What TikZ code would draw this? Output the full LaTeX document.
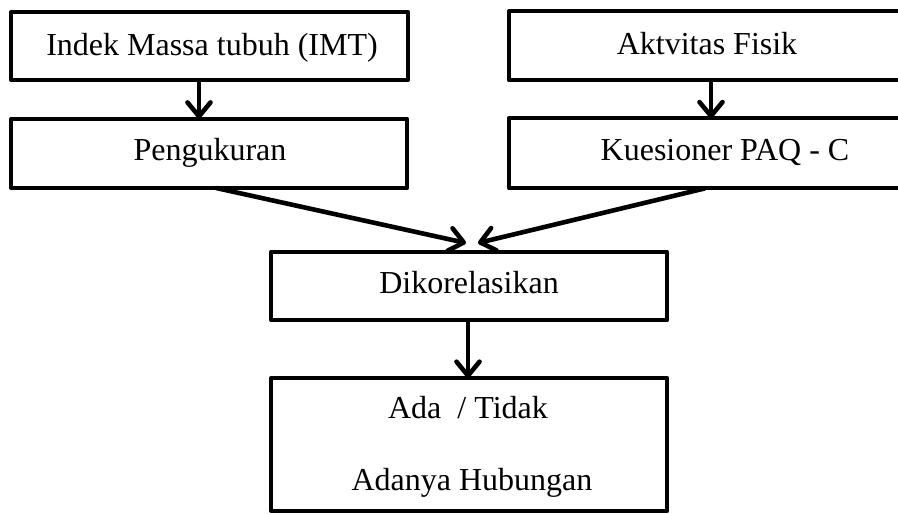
\documentclass[tikz,border=0pt]{standalone}
\usepackage{fontspec}
\setmainfont{Liberation Serif}
\usetikzlibrary{arrows.meta}
\begin{document}
\begin{tikzpicture}[x=1pt,y=-1pt,
  box/.style={draw=black,line width=4.2pt,line join=round,fill=white,inner sep=0pt,outer sep=0pt},
  lbl/.style={anchor=base,inner sep=0pt,font=\fontsize{32}{38}\selectfont},
  arr/.style={draw=black,line width=4.6pt,-{Straight Barb[length=14pt,width=23pt,line cap=round,line join=round]}}]
\useasboundingbox (0,0) rectangle (898,514);
\clip (0,0) rectangle (898,514);
% boxes
\node[box,minimum width=396.7pt,minimum height=68pt] (b1) at (209.65,46) {};
\node[box,minimum width=395.7pt,minimum height=69.3pt] (b2) at (209.15,153.35) {};
\node[box,minimum width=400pt,minimum height=68.7pt] (b3) at (709,45.65) {};
\node[box,minimum width=400pt,minimum height=70pt] (b4) at (709,153.35) {};
\node[box,minimum width=395.7pt,minimum height=68.5pt] (b5) at (469.15,286) {};
\node[box,minimum width=395.7pt,minimum height=133pt] (b6) at (469.15,444.5) {};
% labels
\node[lbl] (l1) at (212,55) {Indek Massa tubuh (IMT)};
\node[lbl] (l2) at (210,160) {Pengukuran};
\node[lbl] (l3) at (707,54) {Aktvitas Fisik};
\node[lbl] (l4) at (725,160) {Kuesioner PAQ - C};
\node[lbl] (l5) at (469,293) {Dikorelasikan};
\node[lbl] (l6) at (468,418) {Ada~ / Tidak};
\node[lbl] (l7) at (472,490) {Adanya Hubungan};
% arrow tips
\coordinate (t1) at (466,243);
\coordinate (t2) at (478,243);
% connectors
\draw[arr] (b1.south -| 199,0) -- (b2.north -| 199,0);
\draw[arr] (b3.south -| 711,0) -- (b4.north -| 711,0);
\draw[arr] ([xshift=7pt]b2.south) -- (t1);
\draw[arr] ([xshift=-4pt]b4.south -| 709,0) -- (t2);
\draw[arr] (b5.south -| 468,0) -- (b6.north -| 468,0);
\end{tikzpicture}
\end{document}
